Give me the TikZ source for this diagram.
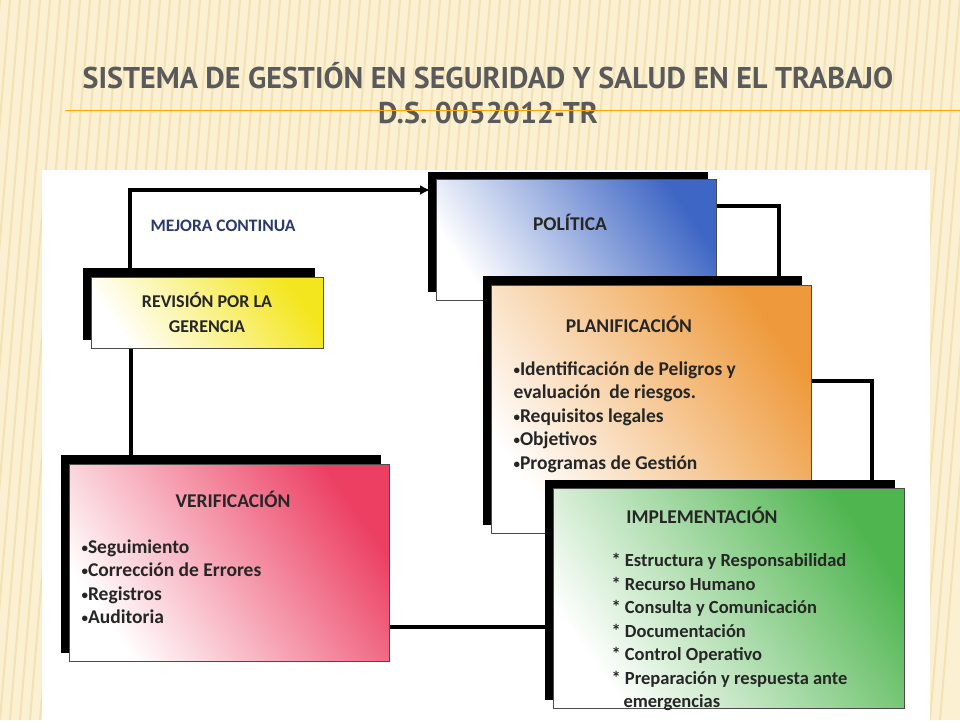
\documentclass[tikz,border=0pt]{standalone}
\usepackage{fontspec}
\usetikzlibrary{arrows.meta}
\setmainfont{Carlito}
\newfontfamily\titlefont{PT Sans}
\definecolor{bgc}{HTML}{FBF0D2}
\definecolor{stripe}{HTML}{F3E2B4}
\definecolor{ttl}{HTML}{5A5A5A}
\definecolor{mej}{HTML}{2B3A6B}
\definecolor{cpol}{HTML}{3E66C4}
\definecolor{crev}{HTML}{F4E61E}
\definecolor{cpla}{HTML}{EE9A3C}
\definecolor{cver}{HTML}{EC3F62}
\definecolor{cimp}{HTML}{4FB54F}
\newcommand{\bul}{{\fontsize{13}{13}\selectfont\raisebox{1pt}{•}}}
\tikzset{
  shadowbox/.style={fill=black},
  card/.style={draw=black!70, line width=0.6pt},
  conn/.style={line width=4pt},
  lbl/.style={font=\bfseries\fontsize{19.5}{24}\selectfont, text=black!85},
  body/.style={font=\bfseries\fontsize{19.5}{23.5}\selectfont, text=black!85, align=left, anchor=north west},
}
\begin{document}
\begin{tikzpicture}[x=1pt,y=-1pt]
\useasboundingbox (0,0) rectangle (960,720);
\fill[bgc] (0,0) rectangle (960,720);
\begin{scope}
\clip (0,0) rectangle (960,720);
\foreach \i in {-40,-30,...,1000} \draw[stripe, line width=2pt] (\i,0) -- (\i-60,720);
\end{scope}
% title
\node[font=\titlefont\bfseries\fontsize{30}{34}\selectfont, text=ttl] (t1) at (488,76) {SISTEMA DE GESTIÓN EN SEGURIDAD Y SALUD EN EL TRABAJO};
\node[font=\titlefont\bfseries\fontsize{30}{34}\selectfont, text=ttl] (t2) at (488,113) {D.S. 0052012-TR};
\draw[orange!70!yellow, line width=0.8pt] (65,110) -- (960,110);
% panel
\fill[white] (42,170) rectangle (930,720);
% connectors
\draw[conn,-{Latex[length=10pt,width=10pt]}] (130,272) -- (130,190) -- (430,190);
\draw[conn] (131,345) -- (131,458);
\draw[conn] (714,206) -- (779,206) -- (779,280);
\draw[conn] (809,381) -- (872,381) -- (872,484);
\draw[conn] (387,627) -- (548,627);
% Politica
\fill[shadowbox] (428,172) rectangle (708,292);
\shade[card, left color=white, right color=cpol, shading angle=125] (436,179) rectangle (716,300);
\node[lbl] (pol) at (570,222) {POLÍTICA};
% Revision
\fill[shadowbox] (83,268) rectangle (315,340);
\shade[card, left color=white, right color=crev, shading angle=125] (91,277) rectangle (323,348);
\node[lbl, align=center, font=\bfseries\fontsize{18}{25}\selectfont] (rev) at (207,312) {REVISIÓN POR LA\\GERENCIA};
\node[font=\bfseries\fontsize{17.5}{20}\selectfont, text=mej] (mej) at (223,226) {MEJORA CONTINUA};
% Planificacion
\fill[shadowbox] (483,276) rectangle (802,525);
\shade[card, left color=white, right color=cpla, shading angle=125] (491,285) rectangle (811,533);
\node[lbl] (pla) at (629,324) {PLANIFICACIÓN};
\node[body] (plab) at (510,358) {\bul Identificación de Peligros y\\evaluación~ de riesgos.\\\bul Requisitos legales\\\bul Objetivos\\\bul Programas de Gestión};
% Verificacion
\fill[shadowbox] (61,455) rectangle (381,653);
\shade[card, left color=white, right color=cver, shading angle=125] (69,464) rectangle (389,661);
\node[lbl] (ver) at (233,499) {VERIFICACIÓN};
\node[body] (verb) at (78,536) {\bul Seguimiento\\\bul Corrección de Errores\\\bul Registros\\\bul Auditoria};
% Implementacion
\fill[shadowbox] (545,480) rectangle (895,700);
\shade[card, left color=white, right color=cimp, shading angle=125] (553,488) rectangle (904,708);
\node[lbl] (imp) at (702,515) {IMPLEMENTACIÓN};
\node[body, font=\bfseries\fontsize{18.5}{23.5}\selectfont] (impb) at (608,550) {* Estructura y Responsabilidad\\* Recurso Humano\\* Consulta y Comunicación\\* Documentación\\* Control Operativo\\* Preparación y respuesta ante\\\hspace*{12pt}emergencias};
\end{tikzpicture}
\end{document}
